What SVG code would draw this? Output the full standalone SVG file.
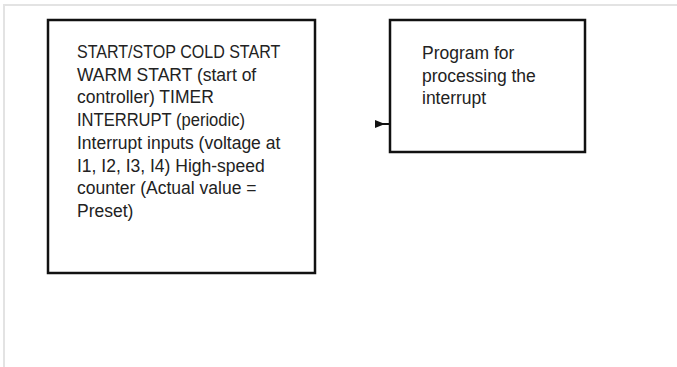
<svg xmlns="http://www.w3.org/2000/svg" width="677" height="367" viewBox="0 0 677 367">
<style>
.frame{fill:none;stroke:#e3e3e3;stroke-width:2}
.box{fill:#ffffff;stroke:#111111;stroke-width:2.5}
.lbl{font-family:"Liberation Sans",Arial,sans-serif;font-size:17.5px;fill:#222222}
.conn{fill:none;stroke:#111111;stroke-width:2}
</style>
<defs>
<marker id="head" viewBox="0 0 10 8" refX="0" refY="4" markerWidth="10" markerHeight="8" markerUnits="userSpaceOnUse" orient="auto">
<path d="M0,0 L10,4 L0,8 Z" fill="#111111"/>
</marker>
</defs>
<rect width="677" height="367" fill="#ffffff"/>
<path class="frame" d="M4,367 V5 H677"/>
<g id="node-sources">
<rect class="box" x="48" y="20" width="267" height="253"/>
<text class="lbl">
<tspan x="77" y="58" textLength="203" lengthAdjust="spacingAndGlyphs">START/STOP COLD START</tspan>
<tspan x="77" y="80.7">WARM START (start of</tspan>
<tspan x="77" y="103.4">controller) TIMER</tspan>
<tspan x="77" y="126" textLength="168" lengthAdjust="spacingAndGlyphs">INTERRUPT (periodic)</tspan>
<tspan x="77" y="148.8">Interrupt inputs (voltage at</tspan>
<tspan x="77" y="171.5">I1, I2, I3, I4) High-speed</tspan>
<tspan x="77" y="194.2">counter (Actual value =</tspan>
<tspan x="77" y="217">Preset)</tspan>
</text>
</g>
<g id="node-program">
<rect class="box" x="390" y="20" width="195" height="132"/>
<text class="lbl">
<tspan x="422" y="59">Program for</tspan>
<tspan x="422" y="81.5">processing the</tspan>
<tspan x="422" y="104">interrupt</tspan>
</text>
</g>
<g id="connectors">
<path class="conn" d="M375,124 H389" marker-start="url(#head)"/>
</g>
</svg>
